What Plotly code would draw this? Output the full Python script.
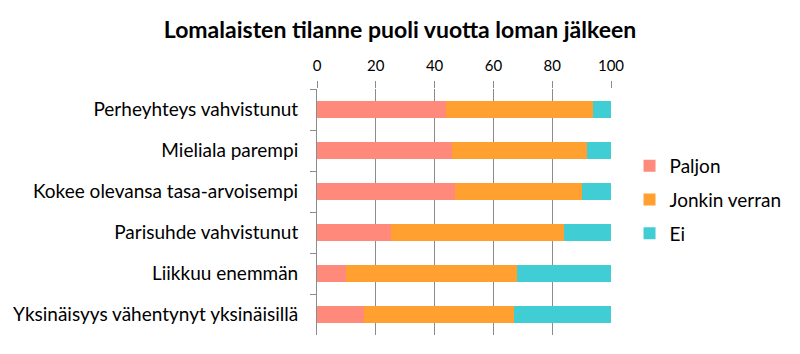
import plotly.graph_objects as go

categories = ["Perheyhteys vahvistunut", "Mieliala parempi", "Kokee olevansa tasa-arvoisempi",
              "Parisuhde vahvistunut", "Liikkuu enemmän", "Yksinäisyys vähentynyt yksinäisillä"]
paljon = [44, 46, 47, 25, 10, 16]
jonkin = [50, 46, 43, 59, 58, 51]
ei = [6, 8, 10, 16, 32, 33]
x_ticks = [0, 20, 40, 60, 80, 100]

series = [("Paljon", paljon, "#FF897A"), ("Jonkin verran", jonkin, "#FFA030"), ("Ei", ei, "#40CED4")]

FONT = "Lato"
fig = go.Figure()
for name, vals, col in series:
    fig.add_trace(go.Bar(y=categories, x=vals, name=name, orientation="h",
                         marker=dict(color=col, line=dict(width=0)),
                         legendgroup=name, width=0.41))

fig.update_layout(
    width=800, height=354, barmode="stack",
    margin=dict(l=317, r=189, t=89, b=19, autoexpand=False),
    paper_bgcolor="white", plot_bgcolor="white",
    font=dict(family=FONT, size=15, color="#000000"),
    title=dict(text="<b>Lomalaisten tilanne puoli vuotta loman jälkeen</b>",
               x=0.5, xref="container", xanchor="center", y=0.915, yanchor="middle",
               font=dict(family=FONT, size=23, color="#000000")),
    legend=dict(x=1.063, y=0.549, xanchor="left", yanchor="middle",
                traceorder="grouped", tracegroupgap=6,
                font=dict(family=FONT, size=19, color="#000000")),
    xaxis=dict(side="top", range=[0, 100], tickvals=x_ticks, showgrid=True,
               gridcolor="#8C8C8C", gridwidth=1, zeroline=False, showline=False,
               ticks="outside", ticklen=7, tickcolor="#8C8C8C", ticklabelstandoff=4,
               tickfont=dict(family=FONT, size=15, color="#000000")),
    yaxis=dict(categoryorder="array", categoryarray=categories, autorange="reversed",
               showline=True, linecolor="#8C8C8C", linewidth=1, showgrid=False,
               ticks="outside", ticklen=6, tickcolor="#8C8C8C", tickson="boundaries",
               ticklabelstandoff=14,
               tickfont=dict(family=FONT, size=19, color="#000000")),
)
fig.write_html("out.html")
